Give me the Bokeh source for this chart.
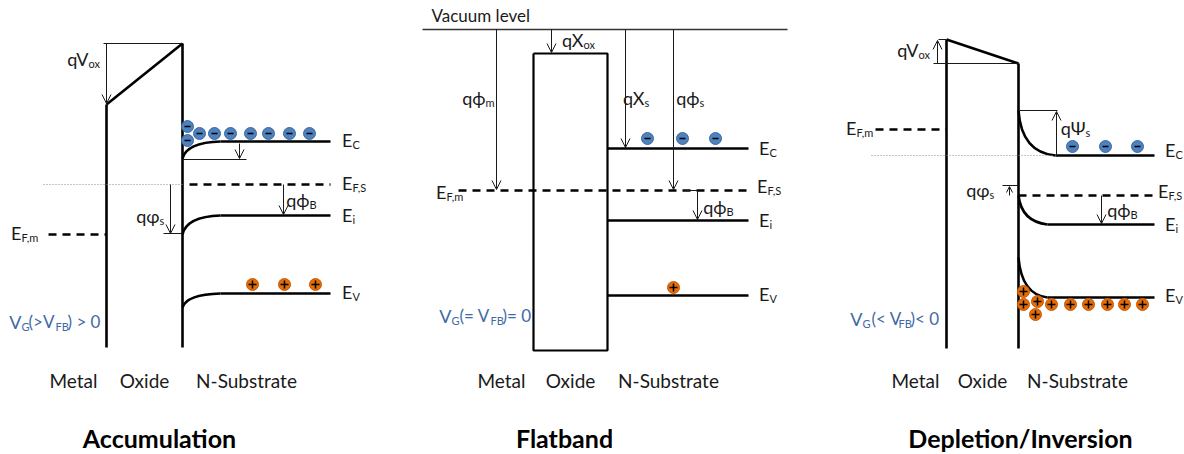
from bokeh.plotting import figure
from bokeh.models import Range1d, Arrow, OpenHead, ColumnDataSource
from bokeh.core.properties import value
from bokeh.embed import file_html
from bokeh.resources import INLINE

FONT = "Lato"
BLUE_TXT = "#3f6aa5"
E_FILL, E_LINE = "#4f81bd", "#3a6aa3"
H_FILL, H_LINE = "#e46c0a", "#c65a05"

# ---- band diagram levels (screen units, y grows downward) ----
# Accumulation
acc_x = [106, 182, 220, 330]            # metal edge, oxide/Si edge, bend end, band end
acc_oxide_top = [104, 43]               # oxide CB at metal side / at Si side
acc_band_y = [141, 184, 215, 293]       # E_C, E_F,S, E_i, E_V in bulk
acc_surface_y = [158, 184, 234, 307]    # same bands at the surface
acc_efm = 234
acc_bottom = 347
acc_electron_x = [187, 199, 214, 230, 250, 268, 289, 309, 187]
acc_electron_y = [126, 133, 133, 133, 133, 133, 133, 133, 140]
acc_hole_x = [252, 284, 315]
acc_hole_y = [284, 284, 284]

# Flatband
fb_vacuum = 29
fb_oxide_x = [533, 607]
fb_oxide_y = [53, 350]
fb_band_y = [148, 190, 220, 295]        # E_C, E_F, E_i, E_V
fb_band_end = 748
fb_electron_x = [647, 682, 715]
fb_electron_y = [138, 138, 138]
fb_hole_x = [673]
fb_hole_y = [287]

# Depletion / inversion
dep_x = [946, 1018, 1154]
dep_oxide_top = [39, 63]
dep_band_y = [155, 195, 224, 297]       # bulk E_C, E_F,S, E_i, E_V
dep_surface_y = [110, 195, 195, 257]
dep_bend_end = [1055, 1018, 1047, 1047]
dep_efm = 129
dep_bottom = 348
dep_electron_x = [1072, 1105, 1137]
dep_electron_y = [146, 146, 146]
dep_hole_x = [1023, 1023, 1037, 1035, 1051, 1070, 1088, 1107, 1124, 1142]
dep_hole_y = [291, 304, 301, 314, 304, 304, 304, 304, 304, 304]

region_names = ["Metal", "Oxide", "N-Substrate"]
titles = ["Accumulation", "Flatband", "Depletion/Inversion"]

p = figure(width=1184, height=454, x_range=Range1d(0, 1184), y_range=Range1d(454, 0),
           output_backend="svg", toolbar_location=None, min_border=0)
p.axis.visible = False
p.grid.visible = False
p.outline_line_color = None
p.background_fill_color = "white"

THICK = 2.6
BLACK = "#000000"
INK = "#1a1a1a"

def thick(xs, ys, dash="solid", w=THICK):
    p.line(xs, ys, line_width=w, line_color=BLACK, line_dash=dash)

def thin(xs, ys, color=INK, dash="solid", w=1):
    p.line(xs, ys, line_width=w, line_color=color, line_dash=dash)

def arrow(x0, y0, x1, y1, size=9):
    p.add_layout(Arrow(end=OpenHead(size=size, line_width=1, line_color=INK),
                       x_start=x0, y_start=y0, x_end=x1, y_end=y1,
                       line_width=1, line_color=INK))

def bend(x0, y0, x1, y1, cx, cy):
    p.quadratic(x0=[x0], y0=[y0], x1=[x1], y1=[y1], cx=[cx], cy=[cy],
                line_width=THICK, line_color=BLACK)

def carriers(xs, ys, fill, edge, mark, msize):
    p.scatter(xs, ys, marker="circle", size=12, fill_color=fill, line_color=edge, line_width=1)
    p.scatter(xs, ys, marker=mark, size=msize, line_color=BLACK, line_width=1.5)

# text pieces: "r" main text ending at x, "l" main text starting at x, "s" subscript starting at x
pieces = {k: dict(x=[], y=[], t=[], c=[]) for k in ("r", "l", "s")}

def lab(y, parts, color=INK):
    for px, t, kind in parts:
        d = pieces[kind]
        d["x"].append(px)
        d["y"].append(y + (5 if kind == "s" else 0))
        d["t"].append(t)
        d["c"].append(color)

def level(x, y, sub):
    lab(y, [(x, "E", "r"), (x, sub, "s")])

# ================= Accumulation =================
m, s, be, end = acc_x
thick([m, m], [acc_oxide_top[0], acc_bottom])
thick([m, s], acc_oxide_top)
thick([s, s], [acc_oxide_top[1], acc_bottom])
for yb, ys in zip([acc_band_y[0], acc_band_y[2], acc_band_y[3]],
                  [acc_surface_y[0], acc_surface_y[2], acc_surface_y[3]]):
    bend(s, ys, be, yb, s + 4, yb + 1)
    thick([be, end], [yb, yb])
thick([189, end], [acc_band_y[1]] * 2, dash="8 6")
thick([48, m], [acc_efm] * 2, dash="8 6")
thin([103, s], [acc_oxide_top[1]] * 2)
thin([s, 246], [acc_surface_y[0] + 1] * 2)
thin([163, s], [acc_surface_y[2] - 1] * 2)
thin([43, s], [acc_band_y[1]] * 2, color="#8a8a8a", dash="1 2")
arrow(m, acc_oxide_top[1], m, acc_oxide_top[0] - 1)
arrow(239, acc_band_y[0] + 2, 239, acc_surface_y[0])
arrow(283, acc_band_y[1], 283, acc_band_y[2] - 1)
arrow(170, acc_band_y[1], 170, acc_surface_y[2] - 1)
carriers(acc_electron_x, acc_electron_y, E_FILL, E_LINE, "dash", 6)
carriers(acc_hole_x, acc_hole_y, H_FILL, H_LINE, "cross", 8)

lab(58, [(88, "qV", "r"), (88, "ox", "s")])
level(352, 139, "C")
level(352, 182, "F,S")
lab(199, [(309, "qϕ", "r"), (309, "B", "s")])
level(352, 214, "i")
lab(215, [(159, "qφ", "r"), (159, "s", "s")])
level(21, 232, "F,m")
level(352, 291, "V")
lab(321, [(21, "V", "r"), (21, "G", "s"), (28, "(>V", "l"), (55, "FB", "s"),
          (67, ") > 0", "l")], BLUE_TXT)

# ================= Flatband =================
ox0, ox1 = fb_oxide_x
thin([422, 787], [fb_vacuum] * 2, color="#333333", w=1.3)
thick([ox0, ox1, ox1, ox0, ox0],
      [fb_oxide_y[0], fb_oxide_y[0], fb_oxide_y[1], fb_oxide_y[1], fb_oxide_y[0]], w=2.2)
for yb in [fb_band_y[0], fb_band_y[2], fb_band_y[3]]:
    thick([ox1, fb_band_end], [yb, yb])
thick([458, 750], [fb_band_y[1]] * 2, dash="8 6")
arrow(551, fb_vacuum, 551, fb_oxide_y[0] - 1)
arrow(496, fb_vacuum, 496, fb_band_y[1] - 1)
arrow(625, fb_vacuum, 625, fb_band_y[0] - 1)
arrow(673, fb_vacuum, 673, fb_band_y[1] - 1)
thin([683, 697], [fb_band_y[1]] * 2)
arrow(697, fb_band_y[1], 697, fb_band_y[2] - 1)
carriers(fb_electron_x, fb_electron_y, E_FILL, E_LINE, "dash", 6)
carriers(fb_hole_x, fb_hole_y, H_FILL, H_LINE, "cross", 8)

lab(15, [(431, "Vacuum level", "l")])
lab(39, [(583, "qX", "r"), (583, "ox", "s")])
lab(97, [(485, "qϕ", "r"), (485, "m", "s")])
lab(97, [(644, "qX", "r"), (644, "s", "s")])
lab(97, [(699, "qϕ", "r"), (699, "s", "s")])
level(769, 147, "C")
level(767, 185, "F,S")
level(446, 191, "F,m")
lab(206, [(726, "qϕ", "r"), (726, "B", "s")])
level(769, 219, "i")
level(769, 293, "V")
lab(315, [(451, "V", "r"), (451, "G", "s"), (459, "(= V", "l"), (490, "FB", "s"),
          (502, ")= 0", "l")], BLUE_TXT)

# ================= Depletion / Inversion =================
m3, s3, end3 = dep_x
thick([m3, m3], [dep_oxide_top[0], dep_bottom])
thick([m3, s3], dep_oxide_top)
thick([s3, s3], [dep_oxide_top[1], dep_bottom])
for i in [0, 2, 3]:
    yb, ys, bx = dep_band_y[i], dep_surface_y[i], dep_bend_end[i]
    bend(s3, ys, bx, yb, s3 + 3, yb - 3)
    thick([bx, end3], [yb, yb])
thick([s3, end3], [dep_band_y[1]] * 2, dash="8 6")
thick([875, m3], [dep_efm] * 2, dash="8 6")
thin([938, m3], [dep_oxide_top[0]] * 2)
thin([933, s3], [dep_oxide_top[1]] * 2)
thin([s3, 1057], [dep_surface_y[0]] * 2)
thin([1002, s3], [185, 185])
thin([871, 1053], [dep_band_y[0]] * 2, color="#8a8a8a", dash="1 2")
arrow(937, dep_oxide_top[1], 937, dep_oxide_top[0] + 1)
arrow(1056, dep_band_y[0], 1056, dep_surface_y[0] + 1)
arrow(1009, dep_band_y[1], 1009, 186, size=6)
arrow(1101, dep_band_y[1], 1101, dep_band_y[2] - 1)
carriers(dep_electron_x, dep_electron_y, E_FILL, E_LINE, "dash", 6)
carriers(dep_hole_x, dep_hole_y, H_FILL, H_LINE, "cross", 8)

lab(49, [(918, "qV", "r"), (918, "ox", "s")])
level(856, 127, "F,m")
lab(127, [(1085, "qΨ", "r"), (1085, "s", "s")])
level(1175, 149, "C")
lab(189, [(989, "qφ", "r"), (989, "s", "s")])
level(1168, 190, "F,S")
lab(209, [(1130, "qϕ", "r"), (1130, "B", "s")])
level(1175, 223, "i")
level(1175, 294, "V")
lab(318, [(862, "V", "r"), (862, "G", "s"), (871, "(< V", "l"), (898, "FB", "s"),
          (910, ")< 0", "l")], BLUE_TXT)

for kind, align, size in (("r", "right", "18px"), ("l", "left", "17px"), ("s", "left", "11px")):
    p.text(x="x", y="y", text="t", text_color="c", source=ColumnDataSource(pieces[kind]),
           text_font=value(FONT), text_font_size=size, text_baseline="middle", text_align=align)

# region names under each diagram
region_x = [73, 144, 246, 501, 570, 668, 915, 982, 1077]
p.text(x=region_x, y=[380] * 9, text=region_names * 3, text_font=value(FONT),
       text_font_size="19px", text_baseline="middle", text_align="center", text_color=INK)

title_x = [159, 564, 1020]
p.text(x=title_x, y=[437] * 3, text=titles, text_font=value(FONT), text_font_size="25px",
       text_font_style="bold", text_baseline="middle", text_align="center", text_color=BLACK)

open("out.html", "w").write(file_html(p, INLINE))
